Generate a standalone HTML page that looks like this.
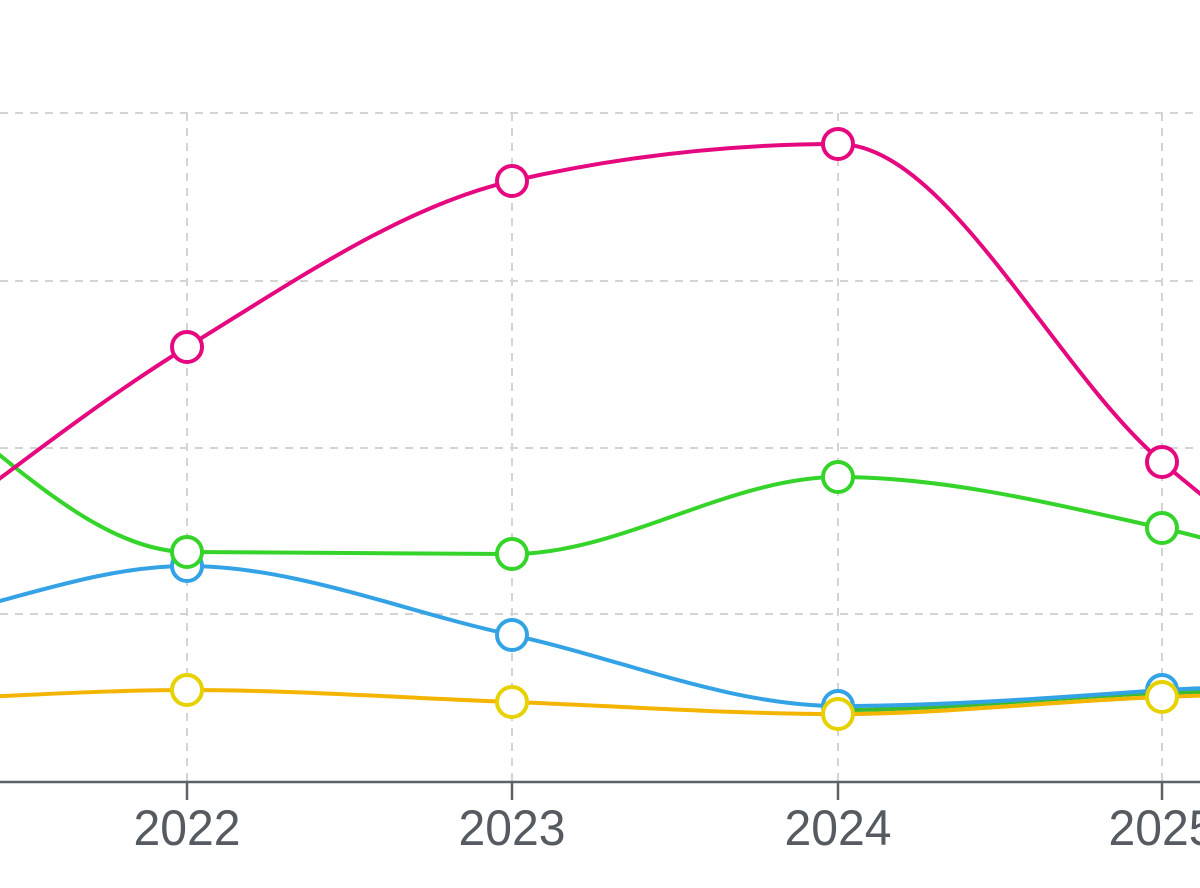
<!DOCTYPE html>
<html>
<head>
<meta charset="utf-8">
<style>
  html, body { margin: 0; padding: 0; background: #ffffff; }
  svg { display: block; }
</style>
</head>
<body>
<svg width="1200" height="888" viewBox="0 0 1200 888" xmlns="http://www.w3.org/2000/svg">
  <rect width="1200" height="888" fill="#ffffff"/>
  <!-- grid -->
  <g stroke="#d4d4d4" stroke-width="2" stroke-dasharray="8 7" fill="none">
    <line x1="0" y1="113" x2="1200" y2="113"/>
    <line x1="0" y1="281" x2="1200" y2="281"/>
    <line x1="0" y1="448" x2="1200" y2="448"/>
    <line x1="0" y1="614" x2="1200" y2="614"/>
    <line x1="187" y1="113" x2="187" y2="782"/>
    <line x1="512" y1="113" x2="512" y2="782"/>
    <line x1="838" y1="113" x2="838" y2="782"/>
    <line x1="1162" y1="113" x2="1162" y2="782"/>
  </g>
  <!-- axis -->
  <line x1="0" y1="782" x2="1200" y2="782" stroke="#5c6268" stroke-width="2.5"/>
  <g stroke="#5c6268" stroke-width="2.5">
    <line x1="187" y1="782" x2="187" y2="800"/>
    <line x1="512" y1="782" x2="512" y2="800"/>
    <line x1="838" y1="782" x2="838" y2="800"/>
    <line x1="1162" y1="782" x2="1162" y2="800"/>
  </g>
  <g font-family="Liberation Sans, sans-serif" font-size="50" fill="#555b61" text-anchor="middle">
    <text x="187" y="845" textLength="107" lengthAdjust="spacingAndGlyphs">2022</text>
    <text x="512" y="845" textLength="107" lengthAdjust="spacingAndGlyphs">2023</text>
    <text x="838" y="845" textLength="107" lengthAdjust="spacingAndGlyphs">2024</text>
    <text x="1162" y="845" textLength="107" lengthAdjust="spacingAndGlyphs">2025</text>
  </g>

  <g fill="none" stroke-width="4" stroke-linecap="round">
    <path d="M838,710 C946.3,710 1053.7,697 1162,693 C1270,690 1378,688 1487,688" stroke="#3dbb2e"/>
    <path d="M-138,630 C-29.7,620 78.7,566 187,566 C295.3,566 403.7,611.7 512,635 C620.3,658.3 729.7,706 838,706 C946.3,706 1053.7,697.7 1162,690 C1270.3,685 1378.7,680 1487,680" stroke="#34a3e6"/>
    <path d="M-138,700 C-29.7,700 78.7,690 187,690 C295.3,690 403.7,698 512,702 C620.3,706 729.7,714 838,714 C946.3,714 1053.7,701 1162,697 C1270.3,693 1378.7,690 1487,690" stroke="#f3b500"/>
    <path d="M-138,350 C-29.7,415 78.7,550.7 187,552 C295.3,552 403.7,554 512,554 C620.3,554 729.7,477 838,477 C946.3,477 1053.7,504.2 1162,528 C1270.3,551.8 1378.7,600 1487,620" stroke="#35d42a"/>
    <path d="M-138,580 C-29.7,504 78.7,413.5 187,347 C295.3,280.5 403.7,205.7 512,181 C620.3,156.3 729.7,144 838,144 C946.3,144 1053.7,369.5 1162,462 C1270.3,554.5 1378.7,624 1487,700" stroke="#e5087f"/>
  </g>

  <g fill="#ffffff" stroke-width="4">
    <g stroke="#34a3e6">
      <circle cx="187" cy="566" r="15"/>
      <circle cx="512" cy="635" r="15"/>
      <circle cx="838" cy="706" r="15"/>
      <circle cx="1162" cy="690" r="15"/>
    </g>
    <g stroke="#e6d200">
      <circle cx="187" cy="690" r="15"/>
      <circle cx="512" cy="702" r="15"/>
      <circle cx="838" cy="714" r="15"/>
      <circle cx="1162" cy="697" r="15"/>
    </g>
    <g stroke="#35d42a">
      <circle cx="187" cy="552" r="15"/>
      <circle cx="512" cy="554" r="15"/>
      <circle cx="838" cy="477" r="15"/>
      <circle cx="1162" cy="528" r="15"/>
    </g>
    <g stroke="#e5087f">
      <circle cx="187" cy="347" r="15"/>
      <circle cx="512" cy="181" r="15"/>
      <circle cx="838" cy="144" r="15"/>
      <circle cx="1162" cy="462" r="15"/>
    </g>
  </g>
</svg>
</body>
</html>
